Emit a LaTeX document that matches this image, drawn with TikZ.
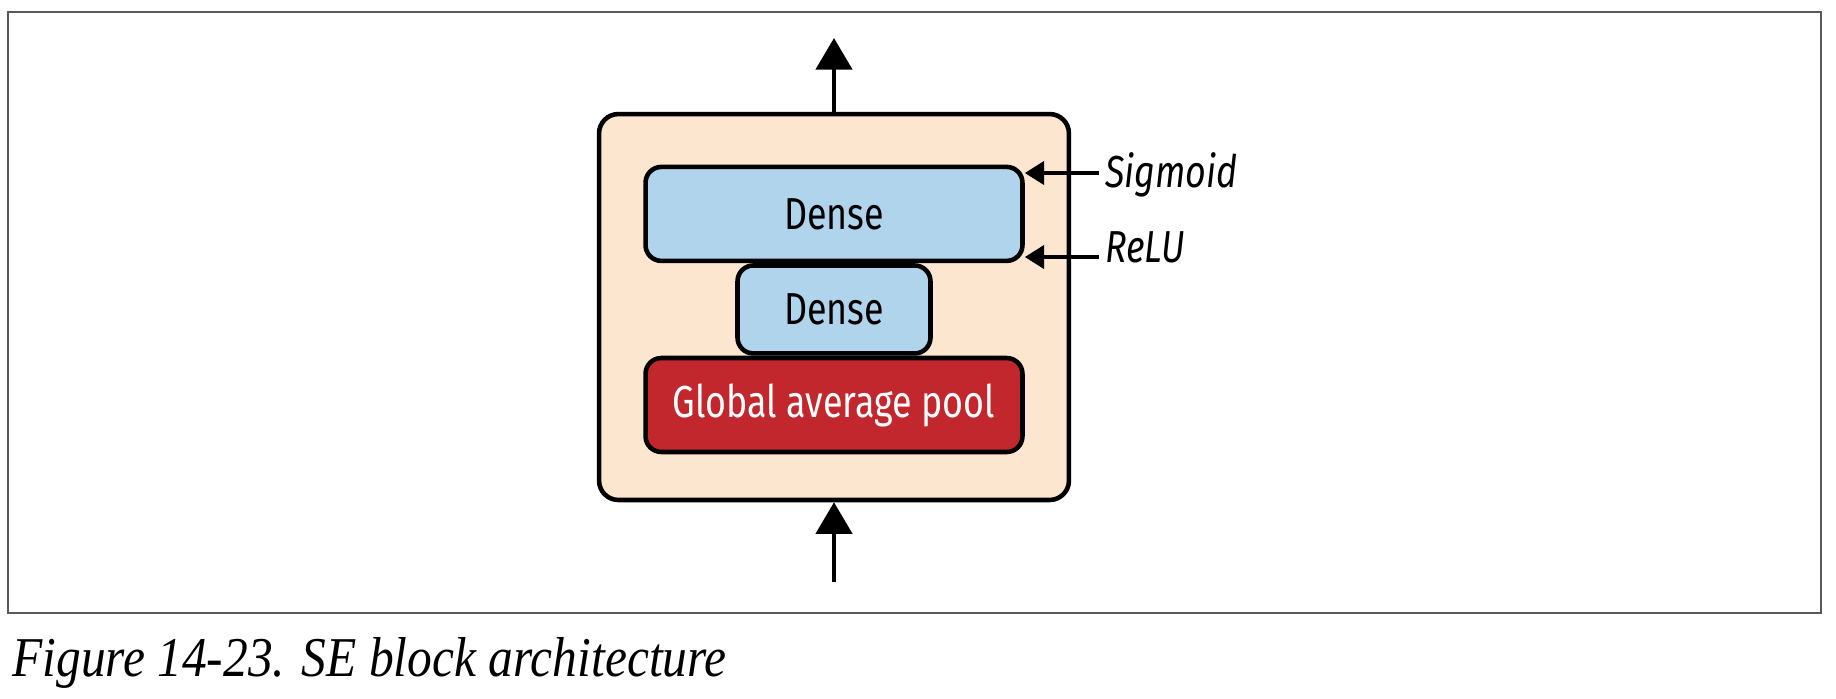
\documentclass[tikz,border=0pt]{standalone}
\usepackage{fontspec}
\usepackage{tikz}
\usetikzlibrary{arrows.meta,positioning,calc}
\newfontfamily\diafont[FakeStretch=0.8]{Fira Sans}
\newfontfamily\capfont[FakeStretch=0.88]{Liberation Serif}
\definecolor{sepeach}{RGB}{253,230,208}
\definecolor{seblue}{RGB}{176,212,236}
\definecolor{sered}{RGB}{193,39,45}
\definecolor{frame}{RGB}{90,90,90}
\tikzset{
  layer/.style={draw, line width=2.6pt, rounded corners=9pt, align=center,
    font=\diafont\fontsize{25.5}{28}\selectfont, inner sep=0pt},
  flow/.style={line width=2.6pt, -{Triangle[length=18pt,width=20.5pt]}},
  act/.style={line width=2.5pt, -{Triangle[length=11pt,width=13pt]}},
  actlbl/.style={anchor=base west, inner sep=0pt, font=\diafont\itshape\fontsize{25.5}{28}\selectfont}
}
\begin{document}
\begin{tikzpicture}[x=0.02cm, y=-0.02cm]
        \useasboundingbox (0,0) rectangle (1836,698);
        \draw[frame, line width=0.9pt] (8,12) rectangle (1821,613);
        \node[layer, fill=sepeach, rounded corners=11pt, minimum width=9.4cm, minimum height=7.72cm] (se) at (834,307) {};
        \node[layer, fill=sered, text=white, minimum width=7.54cm, minimum height=1.88cm] (gap) at (834,405) {Global average pool};
        \node[layer, fill=seblue, minimum width=3.86cm, minimum height=1.76cm, above=0pt of gap] (dense1) {Dense};
        \node[layer, fill=seblue, minimum width=7.54cm, minimum height=1.88cm, above=0pt of dense1] (dense2) {Dense};
        \coordinate (in) at (834,582);
        \coordinate (out) at (834,38);
        \draw[flow] (in) -- (se.south);
        \draw[flow] (se.north) -- (out);
        \node[actlbl] (sig) at (1105,187) {Sigmoid};
        \node[actlbl] (relu) at (1105,262) {ReLU};
        \coordinate (sigin) at (1099,173);
        \coordinate (reluin) at (1099,257);
        \draw[act] (sigin) -- (sigin -| dense2.east);
        \draw[act] (reluin) -- (reluin -| dense2.east);
        \node[anchor=base west, inner sep=0pt, font=\capfont\itshape\fontsize{32}{36}\selectfont] (cap) at (12,676) {Figure 14-23. SE block architecture};
    \end{tikzpicture}
\end{document}
